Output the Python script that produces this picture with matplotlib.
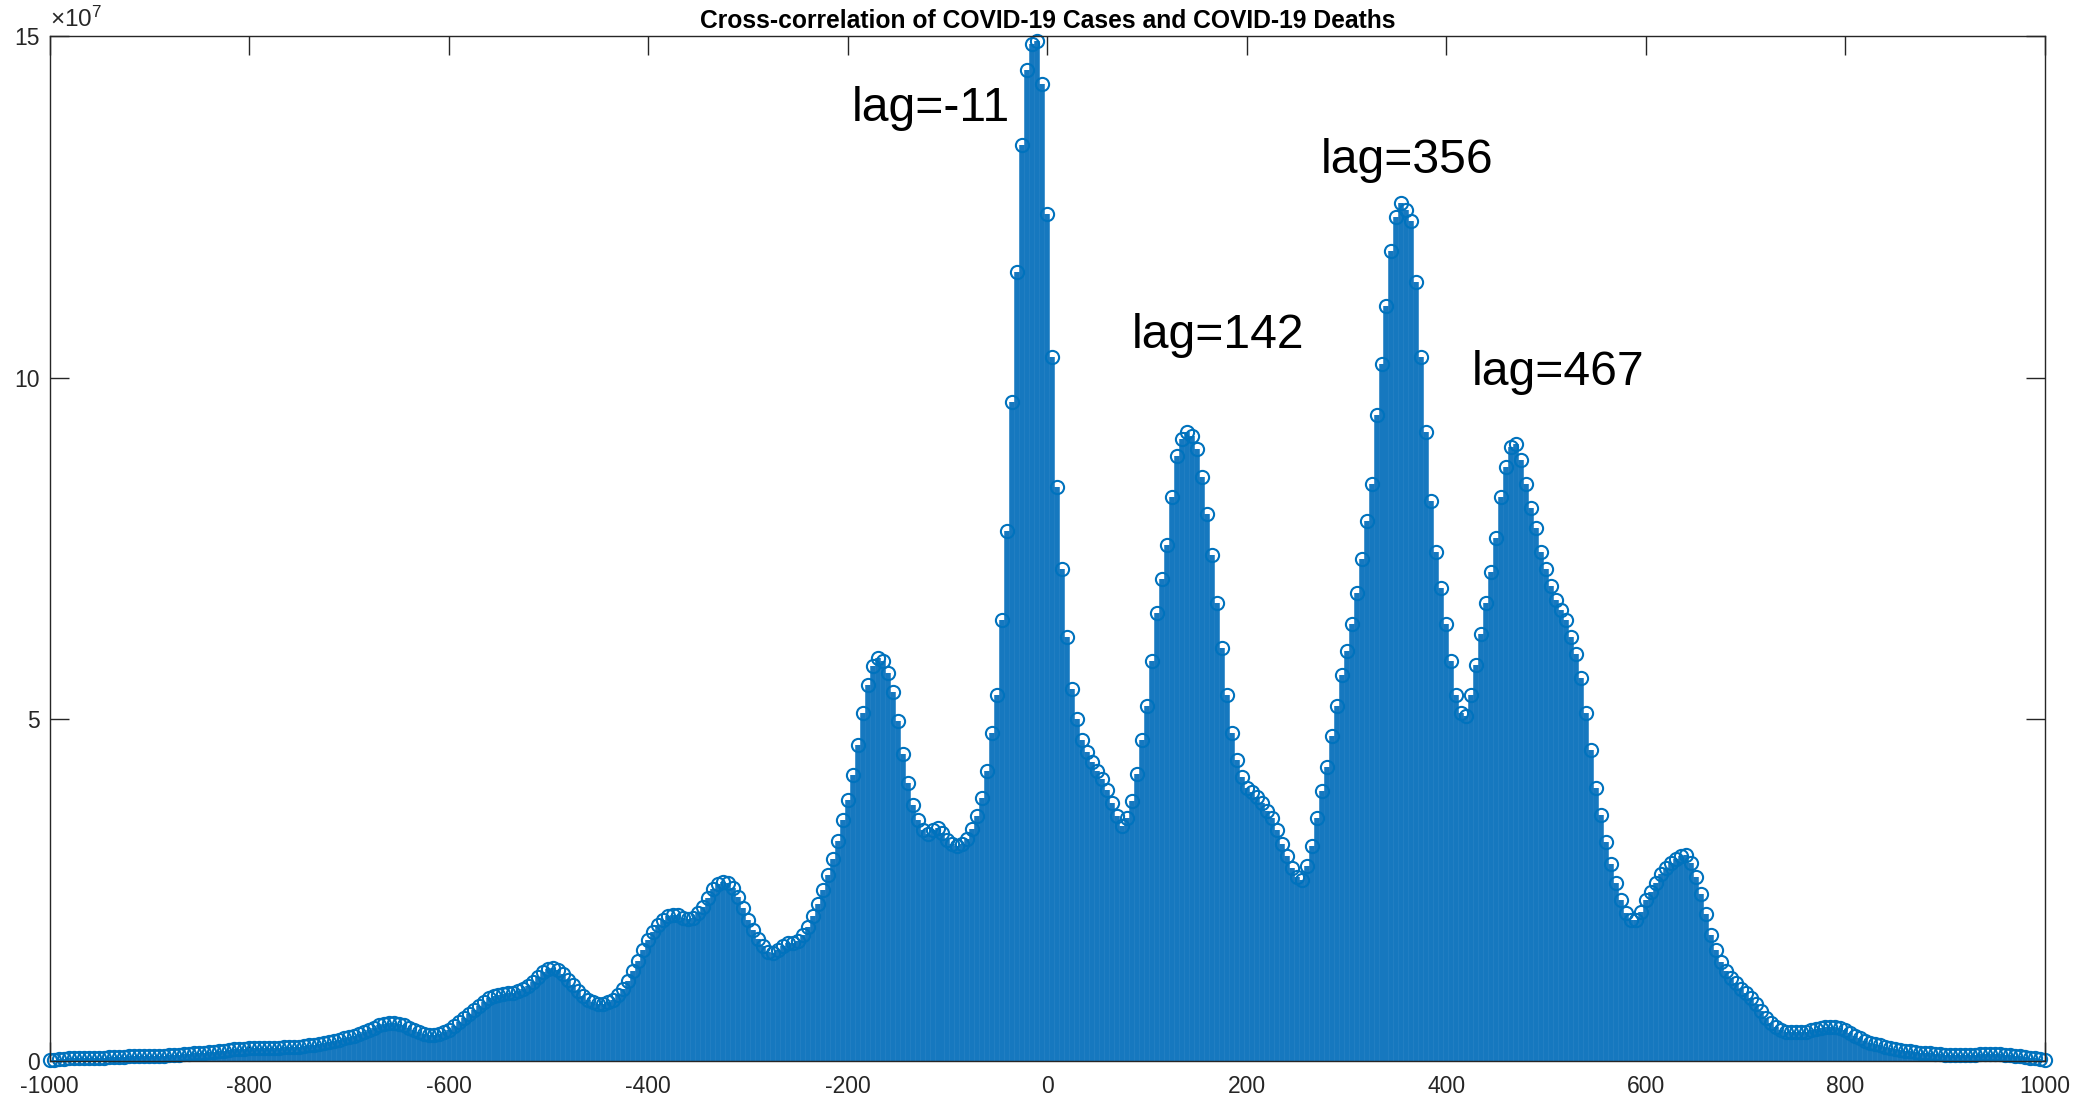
import numpy as np
import matplotlib
matplotlib.use("Agg")
import matplotlib.pyplot as plt

# ---------------- data (values in units of 1e7) ----------------
lags = np.arange(-1000, 1001, 5)
xcorr_e7 = [
    0.01, 0.02, 0.03, 0.03, 0.04, 0.04, 0.04, 0.04, 0.05, 0.05,   # -1000
    0.05, 0.05, 0.06, 0.06, 0.06, 0.06, 0.07, 0.07, 0.07, 0.07,   # -950
    0.08, 0.08, 0.08, 0.08, 0.09, 0.09, 0.09, 0.10, 0.10, 0.11,   # -900
    0.11, 0.12, 0.13, 0.13, 0.14, 0.15, 0.16, 0.17, 0.17, 0.18,   # -850
    0.19, 0.19, 0.19, 0.19, 0.19, 0.19, 0.19, 0.20, 0.20, 0.20,   # -800
    0.21, 0.22, 0.23, 0.24, 0.25, 0.27, 0.28, 0.30, 0.31, 0.33,   # -750
    0.35, 0.37, 0.40, 0.43, 0.46, 0.49, 0.52, 0.54, 0.55, 0.55,   # -700
    0.54, 0.52, 0.49, 0.45, 0.42, 0.39, 0.38, 0.38, 0.39, 0.42,   # -650
    0.46, 0.51, 0.57, 0.63, 0.69, 0.75, 0.81, 0.87, 0.92, 0.95,   # -600
    0.97, 0.98, 0.99, 1.00, 1.02, 1.05, 1.10, 1.16, 1.23, 1.30,   # -550
    1.35, 1.36, 1.33, 1.27, 1.19, 1.11, 1.03, 0.95, 0.89, 0.86,   # -500
    0.84, 0.84, 0.86, 0.90, 0.97, 1.06, 1.17, 1.31, 1.47, 1.63,   # -450
    1.77, 1.89, 1.99, 2.07, 2.12, 2.14, 2.13, 2.10, 2.08, 2.09,   # -400
    2.16, 2.26, 2.39, 2.51, 2.59, 2.62, 2.61, 2.53, 2.40, 2.24,   # -350
    2.07, 1.92, 1.79, 1.68, 1.60, 1.58, 1.62, 1.69, 1.72, 1.72,   # -300
    1.76, 1.84, 1.96, 2.12, 2.30, 2.50, 2.72, 2.96, 3.22, 3.52,   # -250
    3.82, 4.18, 4.62, 5.10, 5.50, 5.78, 5.90, 5.85, 5.68, 5.40,   # -200
    4.98, 4.50, 4.07, 3.75, 3.52, 3.38, 3.32, 3.38, 3.41, 3.33,   # -150
    3.23, 3.17, 3.14, 3.17, 3.25, 3.40, 3.58, 3.85, 4.25, 4.80,   # -100
    5.35, 6.45, 7.75, 9.65, 11.55, 13.40, 14.50, 14.88, 14.93, 14.30,  # -50
    12.40, 10.30, 8.40, 7.20, 6.20, 5.45, 5.00, 4.70, 4.52, 4.38,  # 0
    4.25, 4.13, 3.97, 3.78, 3.58, 3.44, 3.55, 3.80, 4.20, 4.70,   # 50
    5.20, 5.85, 6.55, 7.05, 7.55, 8.25, 8.85, 9.10, 9.20, 9.15,   # 100
    8.95, 8.55, 8.00, 7.40, 6.70, 6.05, 5.35, 4.80, 4.40, 4.15,   # 150
    4.00, 3.93, 3.87, 3.78, 3.66, 3.55, 3.38, 3.18, 3.00, 2.83,   # 200
    2.70, 2.65, 2.85, 3.15, 3.55, 3.95, 4.30, 4.75, 5.20, 5.65,   # 250
    6.00, 6.40, 6.85, 7.35, 7.90, 8.45, 9.45, 10.20, 11.05, 11.85,  # 300
    12.35, 12.55, 12.45, 12.30, 11.40, 10.30, 9.20, 8.20, 7.45, 6.92,  # 350
    6.40, 5.85, 5.35, 5.10, 5.05, 5.35, 5.80, 6.25, 6.70, 7.15,   # 400
    7.65, 8.25, 8.70, 8.98, 9.03, 8.80, 8.45, 8.10, 7.80, 7.45,   # 450
    7.20, 6.95, 6.75, 6.60, 6.45, 6.20, 5.95, 5.60, 5.10, 4.55,   # 500
    4.00, 3.60, 3.20, 2.88, 2.60, 2.35, 2.17, 2.07, 2.06, 2.18,   # 550
    2.35, 2.47, 2.60, 2.73, 2.83, 2.90, 2.96, 3.00, 3.01, 2.90,   # 600
    2.70, 2.45, 2.15, 1.85, 1.62, 1.45, 1.32, 1.22, 1.14, 1.06,   # 650
    0.99, 0.92, 0.83, 0.73, 0.63, 0.55, 0.50, 0.46, 0.43, 0.42,   # 700
    0.42, 0.42, 0.43, 0.45, 0.47, 0.49, 0.50, 0.50, 0.50, 0.48,   # 750
    0.45, 0.41, 0.37, 0.33, 0.30, 0.27, 0.25, 0.23, 0.21, 0.19,   # 800
    0.17, 0.16, 0.15, 0.14, 0.13, 0.12, 0.11, 0.11, 0.10, 0.10,   # 850
    0.09, 0.09, 0.09, 0.09, 0.09, 0.09, 0.09, 0.10, 0.10, 0.10,   # 900
    0.10, 0.10, 0.09, 0.09, 0.08, 0.07, 0.06, 0.05, 0.04, 0.03,   # 950
    0.02,                                                         # 1000
]
peak_labels = ["lag=-11", "lag=142", "lag=356", "lag=467"]
xticks = list(range(-1000, 1001, 200))
yticks = [0, 5, 10, 15]
title = "Cross-correlation of COVID-19 Cases and COVID-19 Deaths"

assert len(xcorr_e7) == len(lags)
vals = np.array(xcorr_e7)

# ---------------- style ----------------
plt.rcParams['font.family'] = ['Liberation Sans', 'DejaVu Sans']
plt.rcParams['mathtext.default'] = 'regular'
ink = (0.15, 0.15, 0.15)
stem_col = '#1678bf'
mark_col = '#0072BD'

fig = plt.figure(figsize=(20.96, 11.0), dpi=100)
ax = fig.add_axes([0.02362, 0.03545, 0.95205, 0.93182])

ax.vlines(lags, 0, vals, colors=stem_col, linewidth=4.0, zorder=2)
ax.plot(lags, vals, 'o', mfc='none', mec=mark_col, ms=9.5, mew=1.5,
        clip_on=False, zorder=3)

ax.set_xlim(-1000, 1000)
ax.set_ylim(0, 15)
ax.set_xticks(xticks)
ax.set_xticklabels([str(t) for t in xticks])
ax.set_yticks(yticks)
ax.set_yticklabels([str(t) for t in yticks])
ax.tick_params(direction='in', length=14, width=1.0, top=True, right=True,
               labelsize=16.5, colors=ink)
ax.tick_params(axis='x', pad=10)
ax.tick_params(axis='y', pad=7)
for s in ax.spines.values():
    s.set_color(ink)
    s.set_linewidth(1.0)
    s.set_zorder(4)

ax.text(0.0, 1.004, r'$\times10^{7}$', transform=ax.transAxes, fontsize=17.5,
        color=ink, ha='left', va='bottom')
ax.set_title(title, fontsize=17.7, fontweight='bold', pad=6, color='black')

# peak annotations (data coordinates of the text anchors)
ann_x = [-196, 85, 274, 425]
ann_y = [13.75, 10.44, 13.0, 9.89]
for lbl, x, y in zip(peak_labels, ann_x, ann_y):
    ax.text(x, y, lbl, fontsize=34.7, color='black', ha='left', va='baseline',
            zorder=5)

fig.savefig('out.png', dpi=100)
